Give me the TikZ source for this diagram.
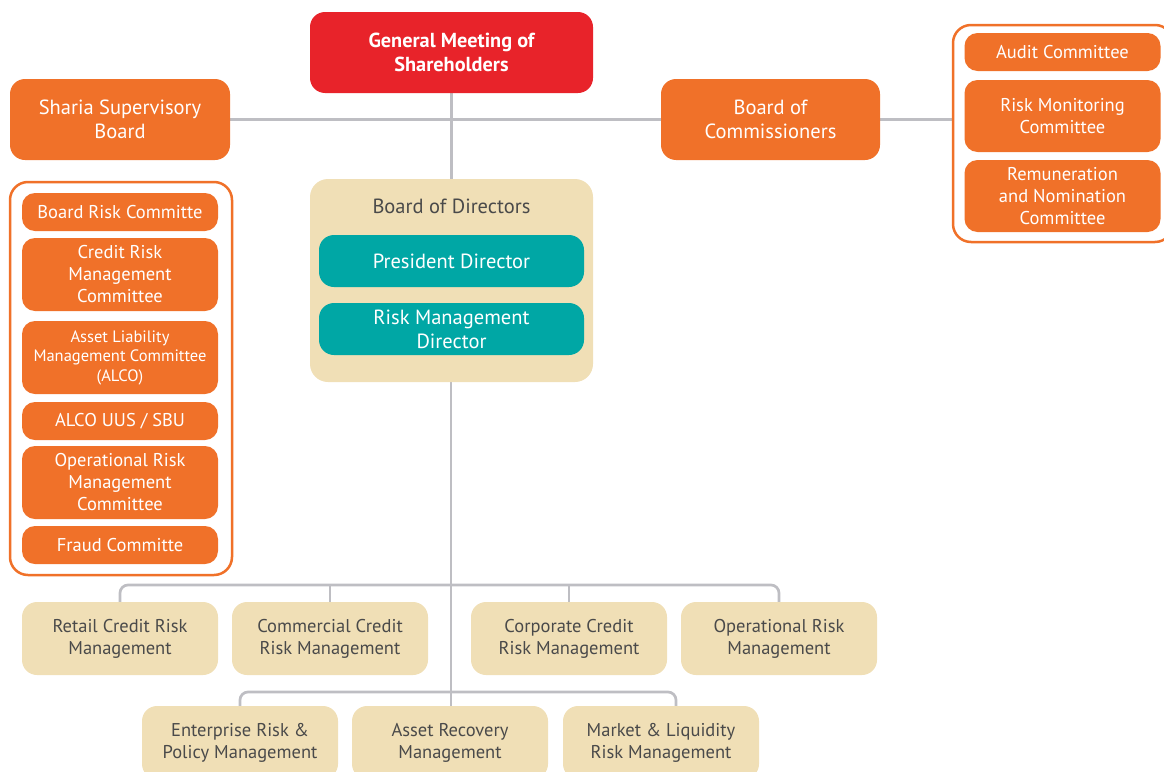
\documentclass[tikz,border=0pt]{standalone}
\usepackage{fontspec}
\setmainfont{PT Sans}
\usetikzlibrary{backgrounds}
\definecolor{orgorange}{HTML}{F07129}
\definecolor{orgred}{HTML}{E8232A}
\definecolor{orgteal}{HTML}{00A7A5}
\definecolor{orgbeige}{HTML}{F0DFB6}
\definecolor{orgline}{HTML}{BEBEC3}
\definecolor{orgtext}{HTML}{4A4A4A}
\tikzset{
  box/.style={rounded corners=15pt, inner sep=0pt, align=center},
  bigfont/.style={font=\fontsize{20.5}{24}\selectfont},
  midfont/.style={font=\fontsize{18.5}{22}\selectfont},
  smallfont/.style={font=\fontsize{16.5}{19.5}\selectfont},
  orangebox/.style={box, fill=orgorange, text=white},
  tealbox/.style={box, fill=orgteal, text=white, bigfont, minimum width=265pt, minimum height=52pt},
  unitbox/.style={box, fill=orgbeige, text=orgtext, midfont, minimum width=196pt, minimum height=73pt},
  commbox/.style={orangebox, rounded corners=13pt, midfont, minimum width=196pt},
  groupbox/.style={box, draw=orgorange, line width=2.5pt, fill=white, rounded corners=18pt},
  conn/.style={draw=orgline, line width=2.7pt},
}
\begin{document}
\begin{tikzpicture}[x=1pt,y=-1pt]
\useasboundingbox (0,0) rectangle (1164,771);

% top level
\node[box, fill=orgred, text=white, font=\fontsize{20.3}{24}\selectfont\bfseries,
      minimum width=283pt, minimum height=81pt] (gms) at (451.5,52.5)
      {General Meeting of\\Shareholders};
\node[orangebox, bigfont, minimum width=220pt, minimum height=81pt] (sharia) at (120,119.5)
      {Sharia Supervisory\\Board};
\node[orangebox, bigfont, minimum width=219pt, minimum height=81pt] (commissioners) at (770.5,119.5)
      {Board of\\Commissioners};

% committees of the commissioners
\node[groupbox, minimum width=220pt, minimum height=217pt] (rgroup) at (1063,133.5) {};
\node[commbox, minimum height=38pt] (audit) at (1062.5,52) {Audit Committee};
\node[commbox, minimum height=72pt] (riskmon) at (1062.5,116) {Risk Monitoring\\Committee};
\node[commbox, minimum height=72pt] (remun) at (1062.5,196) {Remuneration\\and Nomination\\Committee};

% board of directors
\node[box, fill=orgbeige, minimum width=283pt, minimum height=203pt, rounded corners=18pt] (bod) at (451.5,280.5) {};
\node[text=orgtext, bigfont, inner sep=0pt] (bodlabel) at (451.5,206) {Board of Directors};
\node[tealbox] (president) at (451.5,261) {President Director};
\node[tealbox] (rmd) at (451.5,329) {Risk Management\\Director};

% committees of the directors
\node[groupbox, minimum width=222pt, minimum height=393pt] (lgroup) at (121,378.5) {};
\node[commbox, minimum height=38pt] (brc) at (120,212) {Board Risk Committe};
\node[commbox, minimum height=73pt] (crmc) at (120,274.5) {Credit Risk\\Management\\Committee};
\node[commbox, smallfont, minimum height=73pt] (alco) at (120,357.5) {Asset Liability\\Management Committee\\(ALCO)};
\node[commbox, minimum height=38pt] (alcouus) at (120,421) {ALCO UUS / SBU};
\node[commbox, minimum height=73pt] (ormc) at (120,482.5) {Operational Risk\\Management\\Committee};
\node[commbox, minimum height=38pt] (fraud) at (120,545) {Fraud Committe};

% risk management units
\node[unitbox] (retail) at (120,638.5) {Retail Credit Risk\\Management};
\node[unitbox] (commercial) at (330,638.5) {Commercial Credit\\Risk Management};
\node[unitbox] (corporate) at (569,638.5) {Corporate Credit\\Risk Management};
\node[unitbox] (oprisk) at (779,638.5) {Operational Risk\\Management};
\node[unitbox] (enterprise) at (240,742.5) {Enterprise Risk \&\\Policy Management};
\node[unitbox] (asset) at (450,742.5) {Asset Recovery\\Management};
\node[unitbox] (market) at (661,742.5) {Market \& Liquidity\\Risk Management};

% bus junctions
\coordinate (bus1) at (451,585);
\coordinate (bus2) at (451,692);

% connectors, drawn behind the boxes
\begin{pgfonlayer}{background}
  \draw[conn] (gms.south) -- (bod.north);
  \draw[conn] (sharia.east) -- (commissioners.west);
  \draw[conn] (commissioners.east) -- (rgroup.west |- commissioners.east);
  \draw[conn] (bod.south -| bus1) -- (asset.north -| bus1);
  \draw[conn, rounded corners=8pt] (retail.north) |- (bus1) -| (oprisk.north);
  \draw[conn] (commercial.north) -- (commercial.north |- bus1);
  \draw[conn] (corporate.north) -- (corporate.north |- bus1);
  \draw[conn, rounded corners=8pt] (enterprise.north) |- (bus2) -| ([xshift=15pt]market.north);
\end{pgfonlayer}
\end{tikzpicture}
\end{document}
